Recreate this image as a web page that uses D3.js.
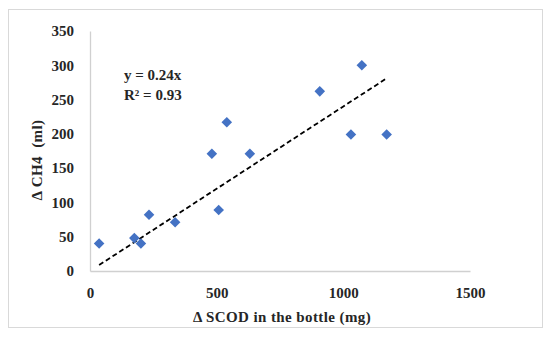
<!DOCTYPE html>
<html>
<head>
<meta charset="utf-8">
<script src="https://cdn.jsdelivr.net/npm/d3@7"></script>
<style>
  body { margin: 0; background: #fff; }
  text { font-family: "Liberation Serif", "DejaVu Serif", serif; font-weight: bold; fill: #262626; }
</style>
</head>
<body>
<div class="chart"></div>
<script>
        // data
        var scod = [36, 175, 201, 233, 336, 481, 508, 540, 631, 907, 1030, 1073, 1171];
        var ch4 = [40, 48, 40, 82, 71, 171, 89, 217, 171, 262, 199, 300, 199];
        var xTicks = [0, 500, 1000, 1500];
        var yTicks = [0, 50, 100, 150, 200, 250, 300, 350];
        var slope = 0.24;

        var w = 550;
        var h = 337;

        var svg = d3.select("div.chart")
                    .append("svg")
                    .attr("width", w)
                    .attr("height", h);

        // outer frame
        svg.append("rect")
           .attr("x", 8.5)
           .attr("y", 9.5)
           .attr("width", 534)
           .attr("height", 318)
           .attr("fill", "none")
           .attr("stroke", "#d9d9d9");

        var xScale = d3.scaleLinear().domain([0, 1500]).range([90, 470]);
        var yScale = d3.scaleLinear().domain([0, 350]).range([271, 31]);

        // axes, no ticks, grey lines
        var x_axis = d3.axisBottom(xScale).tickValues(xTicks).tickFormat(d3.format("d"))
                       .tickSize(0).tickPadding(16);
        var gx = svg.append("g")
            .attr("transform", "translate(0," + yScale(0) + ")")
            .call(x_axis);

        var y_axis = d3.axisLeft(yScale).tickValues(yTicks).tickFormat(d3.format("d"))
                       .tickSize(0).tickPadding(16);
        var gy = svg.append("g")
            .attr("transform", "translate(" + xScale(0) + ",0)")
            .call(y_axis);

        [gx, gy].forEach(function(g) {
            g.select(".domain").attr("stroke", "#d0d0d0").attr("stroke-width", 1.3);
            g.selectAll("text")
             .attr("font-family", "Liberation Serif, serif")
             .attr("font-size", "15px")
             .attr("font-weight", "bold")
             .attr("fill", "#262626");
        });

        // trend line y = 0.24x
        var xs = d3.extent(scod);
        svg.append("line")
           .attr("x1", xScale(xs[0]))
           .attr("y1", yScale(slope * xs[0]))
           .attr("x2", xScale(xs[1]))
           .attr("y2", yScale(slope * xs[1]))
           .attr("stroke", "#000")
           .attr("stroke-width", 1.8)
           .attr("stroke-dasharray", "5,3");

        // diamond markers
        svg.selectAll("path.pt")
           .data(scod)
           .enter()
           .append("path")
           .attr("class", "pt")
           .attr("d", d3.symbol().type(d3.symbolSquare).size(56))
           .attr("transform", function(d, i) {
                return "translate(" + xScale(d) + "," + yScale(ch4[i]) + ") rotate(45)";
           })
           .attr("fill", "#4472c4");

        // equation labels
        svg.append("text")
           .attr("x", 124)
           .attr("y", 80)
           .attr("font-size", "15px")
           .text("y = 0.24x");
        svg.append("text")
           .attr("x", 124)
           .attr("y", 100)
           .attr("font-size", "15px")
           .text("R² = 0.93");

        // axis titles
        svg.append("text")
           .attr("x", 282)
           .attr("y", 322)
           .attr("text-anchor", "middle")
           .attr("font-size", "15px")
           .attr("letter-spacing", "0.4px")
           .text("Δ SCOD in the bottle (mg)");

        svg.append("text")
           .attr("transform", "translate(42,160) rotate(-90)")
           .attr("text-anchor", "middle")
           .attr("font-size", "15px")
           .attr("letter-spacing", "0.4px")
           .style("white-space", "pre")
           .text("Δ CH4  (ml)");
</script>
</body>
</html>
